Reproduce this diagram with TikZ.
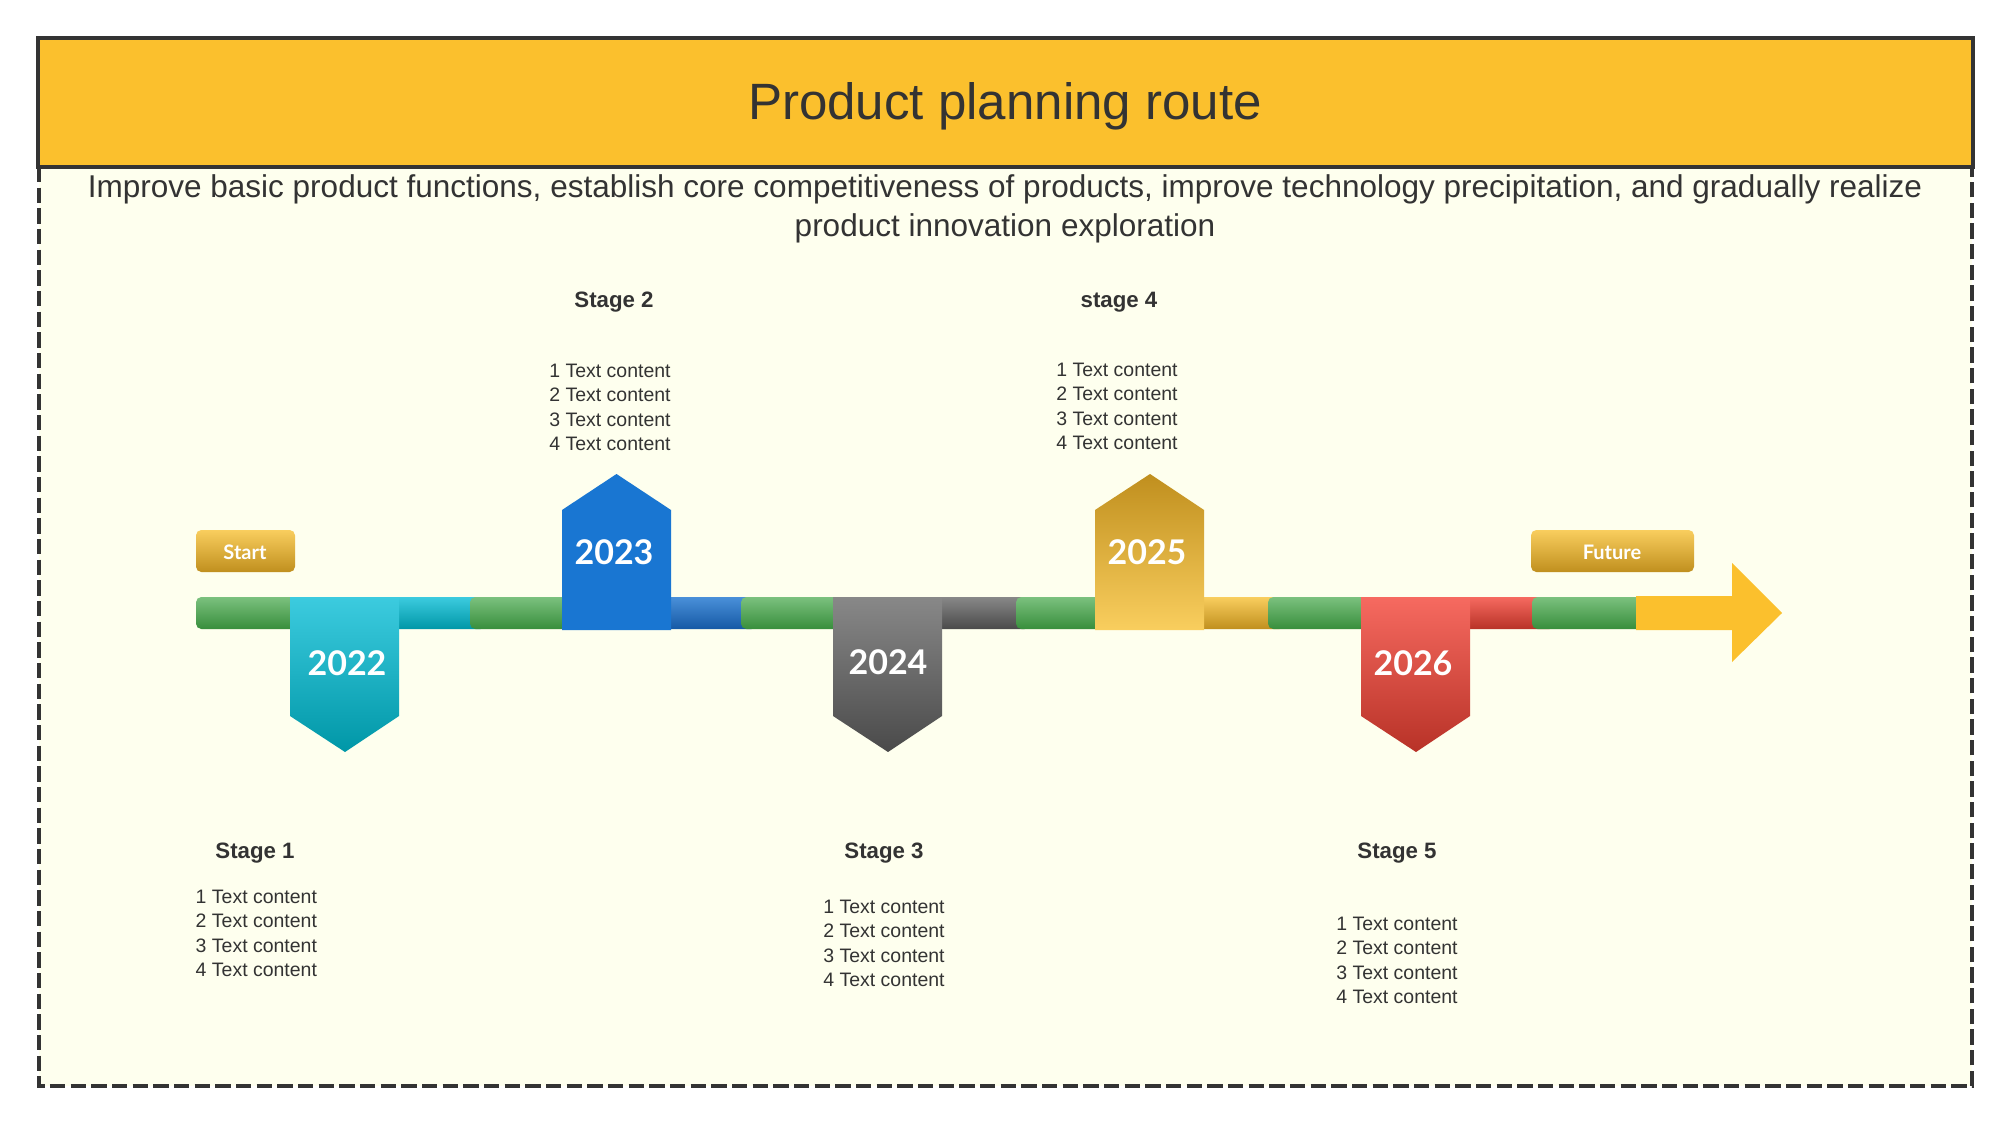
\documentclass[tikz,border=0pt]{standalone}
\usepackage{fontspec}
\setmainfont{Liberation Sans}
\newfontfamily\yearfont{Lato}[BoldFont={Lato Bold}]
\definecolor{inkgrey}{HTML}{333333}
\definecolor{panelcream}{HTML}{FEFFEE}
\definecolor{titlegold}{HTML}{FBC02D}
\definecolor{gold1}{HTML}{F9CE5E}
\definecolor{gold2}{HTML}{C08F1E}
\definecolor{green1}{HTML}{7BC17E}
\definecolor{green2}{HTML}{388E3C}
\definecolor{cyan1}{HTML}{3CCBDF}
\definecolor{cyan2}{HTML}{0097A7}
\definecolor{blue0}{HTML}{1976D2}
\definecolor{blue1}{HTML}{4A90D9}
\definecolor{blue2}{HTML}{1559A5}
\definecolor{grey1}{HTML}{888888}
\definecolor{grey2}{HTML}{4A4A4A}
\definecolor{red1}{HTML}{F66A60}
\definecolor{red2}{HTML}{B83227}
\tikzset{
	bar/.style={rounded corners=4pt},
	greenbar/.style={bar,top color=green1,bottom color=green2},
	cyanshade/.style={top color=cyan1,bottom color=cyan2},
	greyshade/.style={top color=grey1,bottom color=grey2},
	goldshade/.style={top color=gold1,bottom color=gold2},
	redshade/.style={top color=red1,bottom color=red2},
	tag/.style={rounded corners=4pt,goldshade},
	tag text/.style={text=white,font=\yearfont\bfseries\fontsize{15}{18}\selectfont},
	year text/.style={text=white,font=\yearfont\bfseries\fontsize{25.5}{30}\selectfont},
	stage title/.style={text=inkgrey,font=\bfseries\fontsize{16.7}{20}\selectfont},
	stage list/.style={text=inkgrey,align=left,font=\fontsize{14.6}{18.3}\selectfont}
}
\begin{document}
\begin{tikzpicture}[x=0.75pt,y=-0.75pt,inner sep=0pt]
			\useasboundingbox (0,0) rectangle (2009,1123);
			
			\path[fill=panelcream] (39,167) rectangle (1972,1086);
			\draw[inkgrey,line width=2.3pt,dash pattern=on 11.5pt off 4pt] (39,167) -- (39,1086) -- (1972,1086) -- (1972,167);
			\draw[inkgrey,line width=2.3pt,fill=titlegold] (38,38) rectangle (1973,167);
			\node[text=inkgrey,font=\fontsize{38.3}{45}\selectfont] (title) at (1005,106) {Product planning route};
			\node[text=inkgrey,align=center,font=\fontsize{23.64}{29.3}\selectfont] (intro) at (1005,208.5) {Improve basic product functions, establish core competitiveness of products, improve technology precipitation, and gradually realize\\product innovation exploration};
			
			\path[bar,cyanshade] (340,597) rectangle (486,629);
			\path[bar,top color=blue1,bottom color=blue2] (620,597) rectangle (757,629);
			\path[bar,greyshade] (890,597) rectangle (1030,629);
			\path[bar,goldshade] (1150,597) rectangle (1285,629);
			\path[bar,redshade] (1420,597) rectangle (1555,629);
			
			\path[greenbar] (196,597) rectangle (340,629);
			\path[greenbar] (470,597) rectangle (625,629);
			\path[greenbar] (741,597) rectangle (890,629);
			\path[greenbar] (1016,597) rectangle (1150,629);
			\path[greenbar] (1268,597) rectangle (1420,629);
			\path[greenbar] (1532,597) rectangle (1690,629);
			
			\path[fill=titlegold] (1636,596) -- (1732,596) -- (1732,563) -- (1782,613) -- (1732,662) -- (1732,630) -- (1636,630) -- cycle;
			
			\path[cyanshade] (290,597) -- (399,597) -- (399,716) -- (345,752) -- (290,716) -- cycle;
			\path[fill=blue0] (562,630) -- (671,630) -- (671,510) -- (616.5,474) -- (562,510) -- cycle;
			\path[greyshade] (833,597) -- (942,597) -- (942,716) -- (888,752) -- (833,716) -- cycle;
			\path[top color=gold2,bottom color=gold1] (1095,630) -- (1204,630) -- (1204,510) -- (1150,474) -- (1095,510) -- cycle;
			\path[redshade] (1361,597) -- (1470,597) -- (1470,716) -- (1416,752) -- (1361,716) -- cycle;
			
			\path[tag] (196,530) rectangle (295,572);
			\path[tag] (1531,530) rectangle (1694,572);
			\node[tag text] (start) at (245,552) {Start};
			\node[tag text] (future) at (1612,552) {Future};
			
			\node[year text] (Y1) at (347,663) {2022};
			\node[year text] (Y2) at (614,552) {2023};
			\node[year text] (Y3) at (888,662) {2024};
			\node[year text] (Y4) at (1147,552) {2025};
			\node[year text] (Y5) at (1413,663) {2026};
			
			\node[stage title] (S1) at (255,853.5) {Stage 1};
			\node[stage title] (S2) at (614,302.5) {Stage 2};
			\node[stage title] (S3) at (884,853.5) {Stage 3};
			\node[stage title] (S4) at (1119,302.5) {stage 4};
			\node[stage title] (S5) at (1397,853.5) {Stage 5};
			\node[stage list] (L1) [below of=S1,node distance=60pt,xshift=1pt] {1 Text content\\2 Text content\\3 Text content\\4 Text content};
			\node[stage list] (L2) [below of=S2,node distance=78.65pt,xshift=-3pt] {1 Text content\\2 Text content\\3 Text content\\4 Text content};
			\node[stage list] (L3) [below of=S3,node distance=67.45pt] {1 Text content\\2 Text content\\3 Text content\\4 Text content};
			\node[stage list] (L4) [below of=S4,node distance=77.95pt,xshift=-1.5pt] {1 Text content\\2 Text content\\3 Text content\\4 Text content};
			\node[stage list] (L5) [below of=S5,node distance=80.1pt] {1 Text content\\2 Text content\\3 Text content\\4 Text content};
		\end{tikzpicture}
\end{document}
